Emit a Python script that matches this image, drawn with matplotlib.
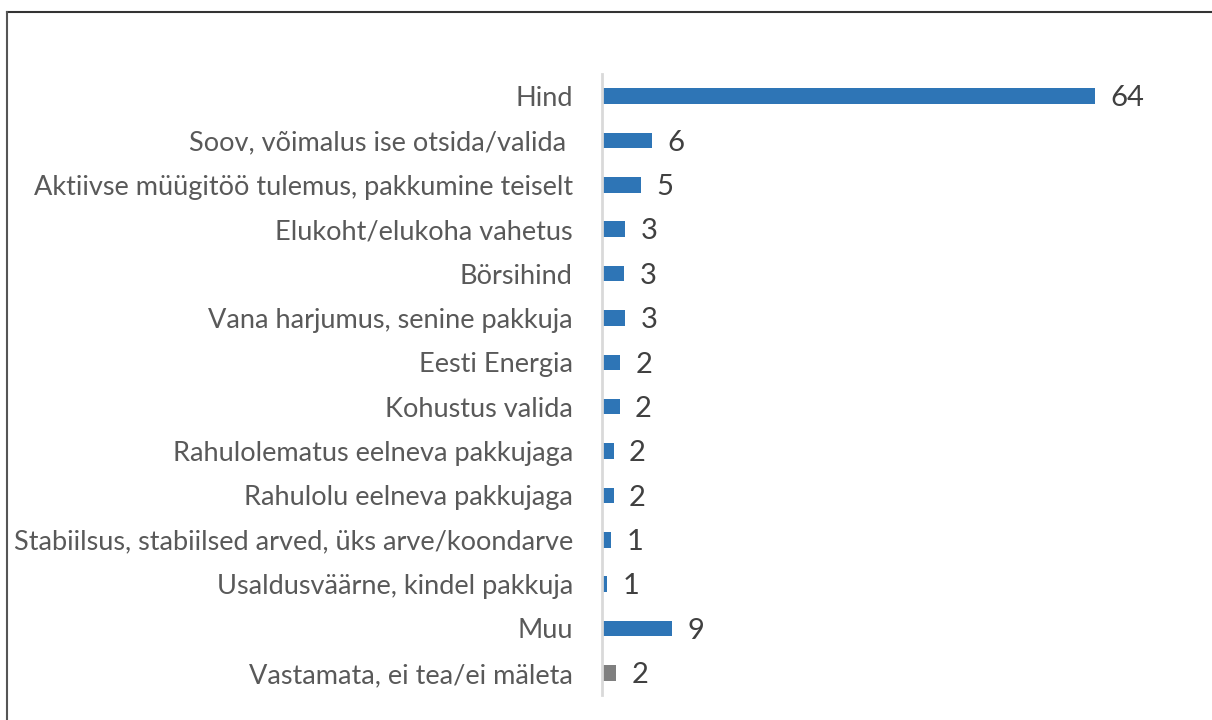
import matplotlib.pyplot as plt
from matplotlib.lines import Line2D

categories = [
    "Hind",
    "Soov, võimalus ise otsida/valida ",
    "Aktiivse müügitöö tulemus, pakkumine teiselt",
    "Elukoht/elukoha vahetus",
    "Börsihind",
    "Vana harjumus, senine pakkuja",
    "Eesti Energia",
    "Kohustus valida",
    "Rahulolematus eelneva pakkujaga",
    "Rahulolu eelneva pakkujaga",
    "Stabiilsus, stabiilsed arved, üks arve/koondarve",
    "Usaldusväärne, kindel pakkuja",
    "Muu",
    "Vastamata, ei tea/ei mäleta",
]
values = [64, 6.45, 5.0, 3.0, 2.9, 3.0, 2.4, 2.3, 1.5, 1.5, 1.2, 0.7, 9.05, 1.8]
value_labels = ["64", "6", "5", "3", "3", "3", "2", "2", "2", "2", "1", "1", "9", "2"]
colors = ["#2E75B6"] * 13 + ["#7F7F7F"]

plt.rcParams['font.family'] = ['Lato', 'DejaVu Sans']

W, H = 1212, 720
fig = plt.figure(figsize=(W / 100, H / 100), dpi=100)
x0, x1 = 602, 1141
y0, y1 = 74, 695
ax = fig.add_axes([x0 / W, 1 - y1 / H, (x1 - x0) / W, (y1 - y0) / H])

ypos = list(range(len(categories)))
ax.barh(ypos, values, height=0.35, color=colors)
ax.set_xlim(0, 70)
ax.set_ylim(len(categories) - 0.5, -0.5)

for y, v, lab in zip(ypos, values, value_labels):
    ax.text(v + 2.0, y + 0.05, lab, va='center', ha='left', fontsize=21, color='#404040')

ax.set_yticks(ypos)
ax.set_yticklabels(categories, fontsize=19.5, color='#595959')
ax.tick_params(axis='y', length=0, pad=21)
ax.set_xticks([])
for s in ['top', 'right', 'bottom']:
    ax.spines[s].set_visible(False)
ax.spines['left'].set_color('#D9D9D9')
ax.spines['left'].set_linewidth(2)

# outer frame (top and left edges visible)
fig.add_artist(Line2D([7 / W, 1], [1 - 12 / H, 1 - 12 / H], color='#333333', lw=1.5))
fig.add_artist(Line2D([7 / W, 7 / W], [0, 1 - 12 / H], color='#555555', lw=1.5))

fig.savefig('out.png', dpi=100)
